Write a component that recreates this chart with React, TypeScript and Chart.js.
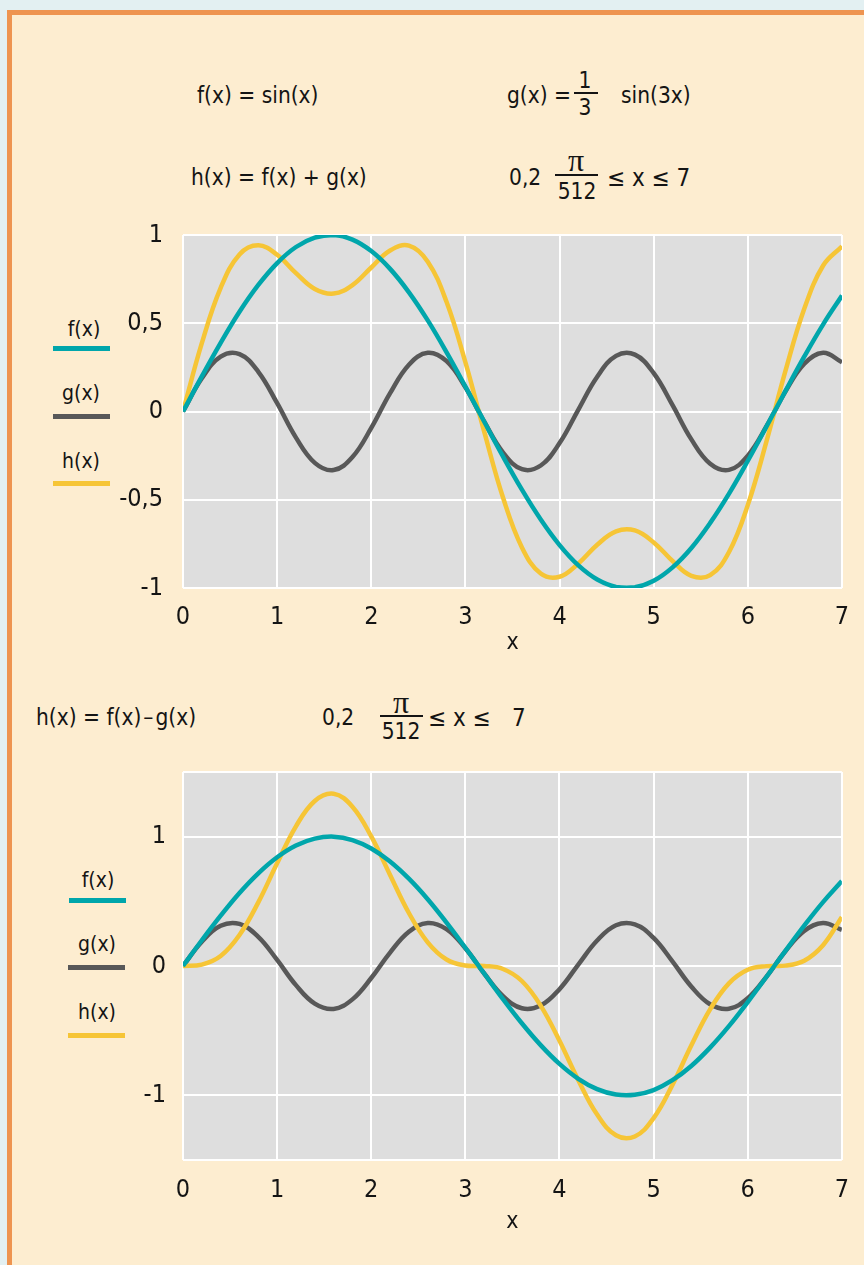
import React, { useEffect, useRef } from 'react';
import { Chart, registerables } from 'chart.js';

Chart.register(...registerables);

// ---- data (x from 0 to 7, step 0.2) ----
const X_VALUES = [0, 0.2, 0.4, 0.6, 0.8, 1.0, 1.2, 1.4, 1.6, 1.8, 2.0, 2.2, 2.4, 2.6, 2.8, 3.0, 3.2, 3.4, 3.6, 3.8, 4.0, 4.2, 4.4, 4.6, 4.8, 5.0, 5.2, 5.4, 5.6, 5.8, 6.0, 6.2, 6.4, 6.6, 6.8, 7.0];
const F_VALUES = [0, 0.199, 0.389, 0.565, 0.717, 0.841, 0.932, 0.985, 1.0, 0.974, 0.909, 0.808, 0.675, 0.516, 0.335, 0.141, -0.058, -0.256, -0.443, -0.612, -0.757, -0.872, -0.952, -0.994, -0.996, -0.959, -0.883, -0.773, -0.631, -0.465, -0.279, -0.083, 0.117, 0.312, 0.494, 0.657];
const G_VALUES = [0, 0.188, 0.311, 0.325, 0.225, 0.047, -0.148, -0.291, -0.332, -0.258, -0.093, 0.104, 0.265, 0.333, 0.285, 0.137, -0.058, -0.233, -0.327, -0.306, -0.179, 0.011, 0.197, 0.315, 0.322, 0.217, 0.036, -0.158, -0.296, -0.331, -0.25, -0.082, 0.114, 0.271, 0.333, 0.279];
const H_SUM_VALUES = [0, 0.387, 0.7, 0.89, 0.942, 0.888, 0.784, 0.694, 0.668, 0.716, 0.816, 0.912, 0.94, 0.849, 0.62, 0.278, -0.116, -0.489, -0.77, -0.918, -0.936, -0.861, -0.755, -0.679, -0.674, -0.742, -0.847, -0.931, -0.927, -0.796, -0.529, -0.165, 0.231, 0.583, 0.827, 0.936];
const H_DIFF_VALUES = [0, 0.011, 0.078, 0.24, 0.492, 0.794, 1.08, 1.276, 1.332, 1.232, 1.002, 0.704, 0.41, 0.183, 0.05, 0.004, 0.0, -0.023, -0.116, -0.306, -0.578, -0.883, -1.149, -1.309, -1.318, -1.176, -0.919, -0.615, -0.335, -0.134, -0.029, -0.001, 0.003, 0.041, 0.161, 0.378];

const X_TICKS = [0, 1, 2, 3, 4, 5, 6, 7];
const Y_TICKS_TOP = [-1, -0.5, 0, 0.5, 1];
const Y_TICKS_BOTTOM = [-1, 0, 1];
const SERIES_LABELS = ['f(x)', 'g(x)', 'h(x)'];

const FONT = "'DejaVu Sans Condensed', 'Liberation Sans Narrow', sans-serif";
const TEAL = '#00A6AB';
const GRAY = '#585858';
const YELLOW = '#F6C536';
const TEXT = '#141414';

const plotBg = {
  id: 'plotBg',
  beforeDraw(chart: any) {
    const { ctx, chartArea } = chart;
    ctx.save();
    ctx.fillStyle = '#DEDEDE';
    ctx.fillRect(chartArea.left, chartArea.top, chartArea.right - chartArea.left, chartArea.bottom - chartArea.top);
    ctx.restore();
  },
};

type ChartProps = {
  top: number;
  height: number;
  padTop: number;
  xAxisHeight: number;
  yMin: number;
  yMax: number;
  yTicks: number[];
  hValues: number[];
  xTickPad: number;
  yTickPad: number;
};

function FuncChart(p: ChartProps) {
  const ref = useRef<HTMLCanvasElement | null>(null);
  useEffect(() => {
    if (!ref.current) return;
    const pts = (ys: number[]) => X_VALUES.map((x, i) => ({ x, y: ys[i] }));
    const ds = (label: string, ys: number[], color: string, order: number) => ({
      label,
      data: pts(ys),
      borderColor: color,
      backgroundColor: color,
      borderWidth: 4.5,
      pointRadius: 0,
      tension: 0.4,
      fill: false,
      order,
    });
    const chart = new Chart(ref.current, {
      type: 'line',
      data: {
        datasets: [
          ds(SERIES_LABELS[0], F_VALUES, TEAL, 0),
          ds(SERIES_LABELS[1], G_VALUES, GRAY, 2),
          ds(SERIES_LABELS[2], p.hValues, YELLOW, 1),
        ],
      },
      options: {
        animation: false,
        responsive: false,
        devicePixelRatio: 1,
        layout: { padding: { top: p.padTop, right: 22, left: 0, bottom: 0 } },
        plugins: { legend: { display: false }, tooltip: { enabled: false } },
        scales: {
          x: {
            type: 'linear',
            min: 0,
            max: 7,
            afterBuildTicks: (s: any) => {
              s.ticks = X_TICKS.map((v) => ({ value: v }));
            },
            afterFit: (s: any) => {
              s.height = p.xAxisHeight;
            },
            grid: { color: '#FFFFFF', lineWidth: 2, drawTicks: false },
            border: { display: false },
            ticks: {
              color: TEXT,
              font: { family: FONT, size: 25 },
              padding: p.xTickPad,
              maxRotation: 0,
              autoSkip: false,
            },
            title: {
              display: true,
              text: 'x',
              color: TEXT,
              font: { family: FONT, size: 23 },
              padding: { top: 0, bottom: 3 },
            },
          },
          y: {
            type: 'linear',
            min: p.yMin,
            max: p.yMax,
            afterBuildTicks: (s: any) => {
              const vals = [p.yMin, ...p.yTicks, p.yMax].filter((v, i, a) => a.indexOf(v) === i);
              s.ticks = vals.map((v) => ({ value: v }));
            },
            afterFit: (s: any) => {
              s.width = 183;
            },
            grid: { color: '#FFFFFF', lineWidth: 2, drawTicks: false },
            border: { display: false },
            ticks: {
              color: TEXT,
              font: { family: FONT, size: 25 },
              padding: p.yTickPad,
              autoSkip: false,
              callback: (v: any) => (p.yTicks.includes(v) ? String(v).replace('.', ',') : ''),
            },
          },
        },
      },
      plugins: [plotBg],
    } as any);
    return () => chart.destroy();
  }, []);
  return (
    <canvas
      ref={ref}
      width={864}
      height={p.height}
      style={{ position: 'absolute', left: 0, top: p.top, width: 864, height: p.height }}
    />
  );
}

const T = (props: { x: number; y: number; size?: number; center?: boolean; family?: string; children: any }) => (
  <div
    style={{
      position: 'absolute',
      left: props.x,
      top: props.y,
      transform: props.center ? 'translate(-50%, -50%)' : 'translateY(-50%)',
      fontFamily: props.family || FONT,
      fontSize: props.size || 22.5,
      lineHeight: 1,
      color: TEXT,
      whiteSpace: 'pre',
    }}
  >
    {props.children}
  </div>
);

const Bar = (props: { x: number; y: number; w: number; h?: number; color?: string }) => (
  <div
    style={{
      position: 'absolute',
      left: props.x,
      top: props.y - (props.h || 1.5) / 2,
      width: props.w,
      height: props.h || 1.5,
      background: props.color || TEXT,
    }}
  />
);

export default function App() {
  return (
    <div style={{ position: 'absolute', left: 0, top: 0, width: 864, height: 1265, background: '#E3F0F2', overflow: 'hidden' }}>
      <div style={{ position: 'absolute', left: 7, top: 10, width: 857, height: 1255, background: '#EE9450' }} />
      <div style={{ position: 'absolute', left: 12, top: 15, width: 852, height: 1250, background: '#FDEDD0' }} />

      {/* header chart 1 */}
      <T x={197} y={95}>f(x) = sin(x)</T>
      <T x={507} y={95}>g(x) =</T>
      <T x={585} y={80} center>1</T>
      <Bar x={574} y={93} w={24} />
      <T x={585} y={107} center>3</T>
      <T x={621} y={95}>sin(3x)</T>
      <T x={191} y={177}>h(x) = f(x) + g(x)</T>
      <T x={509} y={177}>0,2</T>
      <T x={576} y={160} center size={32} family="'Liberation Serif', serif">π</T>
      <Bar x={555} y={175} w={43} />
      <T x={577} y={191} center>512</T>
      <T x={607} y={178} size={24}>≤ x ≤ 7</T>

      {/* legend chart 1 */}
      <T x={84} y={329} center size={21}>f(x)</T>
      <Bar x={53} y={348} w={57} h={5} color={TEAL} />
      <T x={81} y={393} center size={21}>g(x)</T>
      <Bar x={53} y={416} w={57} h={5} color={GRAY} />
      <T x={81} y={461} center size={21}>h(x)</T>
      <Bar x={53} y={483} w={57} h={5} color={YELLOW} />

      <FuncChart top={200} height={460} padTop={32} xAxisHeight={72} yMin={-1} yMax={1} yTicks={Y_TICKS_TOP} hValues={H_SUM_VALUES} xTickPad={14} yTickPad={20} />

      {/* header chart 2 */}
      <T x={36} y={717}>h(x) = f(x){'\u200A'}–{'\u200A'}g(x)</T>
      <T x={322} y={717}>0,2</T>
      <T x={401} y={702} center size={32} family="'Liberation Serif', serif">π</T>
      <Bar x={380} y={716} w={43} />
      <T x={401} y={731} center>512</T>
      <T x={428} y={718} size={24}>≤ x ≤</T>
      <T x={512} y={718} size={24}>7</T>

      {/* legend chart 2 */}
      <T x={98} y={880} center size={21}>f(x)</T>
      <Bar x={69} y={900} w={57} h={5} color={TEAL} />
      <T x={97} y={944} center size={21}>g(x)</T>
      <Bar x={68} y={967} w={57} h={5} color={GRAY} />
      <T x={97} y={1012} center size={21}>h(x)</T>
      <Bar x={68} y={1035} w={57} h={5} color={YELLOW} />

      <FuncChart top={740} height={499} padTop={27} xAxisHeight={79} yMin={-1.5} yMax={1.5} yTicks={Y_TICKS_BOTTOM} hValues={H_DIFF_VALUES} xTickPad={15} yTickPad={17} />
    </div>
  );
}
